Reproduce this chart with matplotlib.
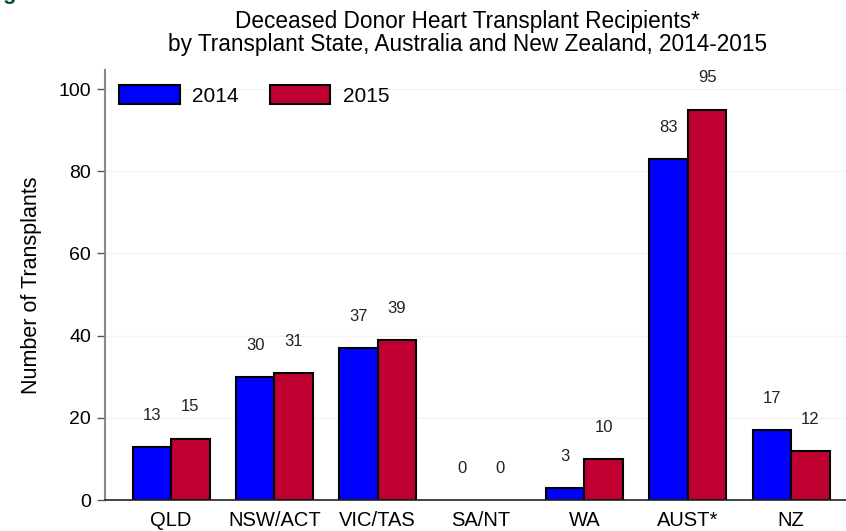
import numpy as np
import matplotlib.pyplot as plt

plt.rcParams['font.family'] = ['Liberation Sans', 'DejaVu Sans']

states = ["QLD", "NSW/ACT", "VIC/TAS", "SA/NT", "WA", "AUST*", "NZ"]
recipients_2014 = [13, 30, 37, 0, 3, 83, 17]
recipients_2015 = [15, 31, 39, 0, 10, 95, 12]
years = ["2014", "2015"]

blue = "#0000ff"
red = "#c00030"

fig = plt.figure(figsize=(8.46, 5.31), dpi=100)
ax = fig.add_axes([0.124, 0.058, 0.876, 0.81])

x = np.arange(len(states))
w = 0.372
for xs, vals, col, lab in [(x - w/2, recipients_2014, blue, years[0]), (x + w/2, recipients_2015, red, years[1])]:
    # zero-height bars get no outline, as in the original
    lws = [1.5 if v > 0 else 0 for v in vals]
    ax.bar(xs, vals, w, color=col, edgecolor="black", linewidth=lws, label=lab)
    for xi, v in zip(xs, vals):
        ax.text(xi, v + 7.7, str(v), ha="center", va="center", fontsize=12, color="#222222")

ax.set_xlim(-0.64, 6.53)
ax.set_ylim(0, 104.6)
ax.set_yticks([0, 20, 40, 60, 80, 100])
ax.set_xticks(x)
ax.set_xticklabels(states, fontsize=14.5)
ax.tick_params(axis="x", length=0, pad=8)
ax.tick_params(axis="y", labelsize=14, length=6, width=1, color="#555555", direction="out", pad=4)
ax.yaxis.grid(True, color="#f2f4f4", linewidth=1)
ax.set_axisbelow(True)

for s in ["top", "right"]:
    ax.spines[s].set_visible(False)
ax.spines["left"].set_color("#888888")
ax.spines["left"].set_linewidth(1.5)
ax.spines["bottom"].set_color("#222222")
ax.spines["bottom"].set_linewidth(1.2)

ax.set_ylabel("Number of Transplants", fontsize=15.5, labelpad=12)

ax.legend(loc="upper left", ncol=2, frameon=False, fontsize=15, handlelength=2.9, handleheight=1.0,
          columnspacing=1.5, handletextpad=0.6, bbox_to_anchor=(-0.006, 1.008), borderaxespad=0.5)

fig.text(0.553, 0.982, "Deceased Donor Heart Transplant Recipients*\nby Transplant State, Australia and New Zealand, 2014-2015",
         ha="center", va="top", fontsize=16.3, linespacing=1.0)

fig.text(0.003, 1.012, "g", color="#0b4d2a", fontsize=16, fontweight="bold", ha="left", va="center")

fig.savefig("out.png", dpi=100)
